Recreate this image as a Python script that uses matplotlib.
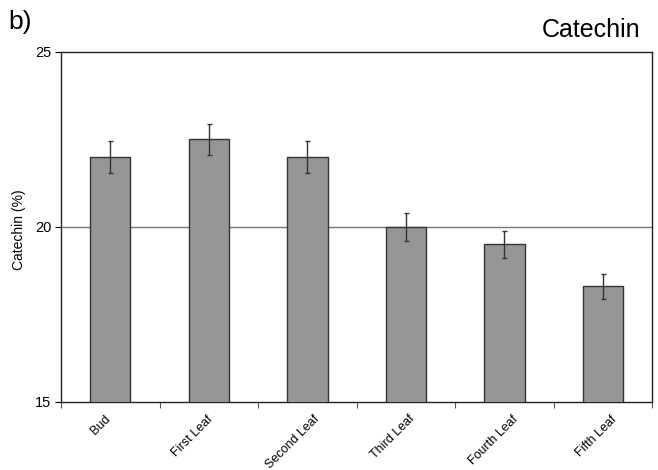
import matplotlib
matplotlib.use("Agg")
import matplotlib.pyplot as plt
import matplotlib.transforms as mtransforms
import numpy as np

plt.rcParams['font.family'] = ['Liberation Sans', 'DejaVu Sans']

categories = ["Bud", "First Leaf", "Second Leaf", "Third Leaf", "Fourth Leaf", "Fifth Leaf"]
catechin = [22.0, 22.5, 22.0, 20.0, 19.5, 18.3]
errors = [0.45, 0.45, 0.45, 0.40, 0.38, 0.36]

fig = plt.figure(figsize=(6.58, 4.70), dpi=100)
ax = fig.add_axes([0.0927, 0.1447, 0.8985, 0.7447])

x = np.arange(len(categories))
ax.bar(x, catechin, width=0.41, color="#969696", edgecolor="#333333", linewidth=1.0, zorder=3)
ax.errorbar(x, catechin, yerr=errors, fmt="none", ecolor="#333333", elinewidth=1.0,
            capsize=1.8, capthick=1.0, zorder=4)

ax.set_ylim(15, 25)
ax.set_xlim(-0.5, len(categories) - 0.5)
ax.set_yticks([15, 20, 25])
ax.axhline(20, color="#777777", linewidth=1.0, zorder=1)

ax.set_xticks(x)
ax.set_xticklabels(categories, rotation=45, ha="right", va="top",
                   rotation_mode="anchor", fontsize=9)
ax.set_xticks(np.arange(-0.5, len(categories)), minor=True)
ax.tick_params(axis="x", which="major", length=0, pad=8)
ax.tick_params(axis="x", which="minor", length=4, width=0.8, direction="out", color="#555555")
ax.tick_params(axis="y", length=4, width=0.8, direction="out", labelsize=10.5, pad=3)

# nudge the slanted category labels sideways (pixels)
label_nudge = [-6, -2, 6, 3, 7, 8]
for lbl, dx in zip(ax.get_xticklabels(), label_nudge):
    lbl.set_transform(lbl.get_transform() +
                      mtransforms.ScaledTranslation(dx / 100, 0, fig.dpi_scale_trans))

for s in ax.spines.values():
    s.set_linewidth(1.0)
    s.set_color("#222222")

fig.text(19 / 658, 1 - 230 / 470, "Catechin (%)", fontsize=10, rotation=90,
         ha="center", va="center")

fig.text(8 / 658, 1 - 29 / 470, "b)", fontsize=19, va="baseline", ha="left")
fig.text(640 / 658, 1 - 37 / 470, "Catechin", fontsize=18, va="baseline", ha="right")

fig.savefig("out.png", dpi=100)
